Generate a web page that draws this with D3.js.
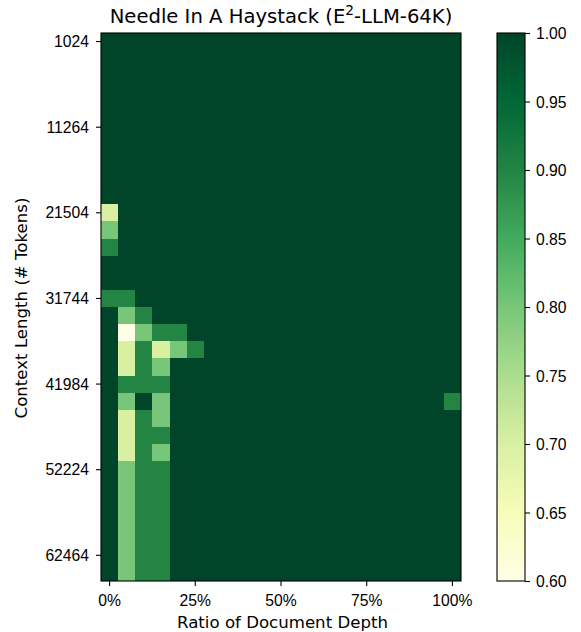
<!DOCTYPE html>
<html>
<head>
<meta charset="utf-8">
<script src="https://cdn.jsdelivr.net/npm/d3@7"></script>
<style>
  html, body { margin: 0; padding: 0; background: #fff; }
  svg { display: block; font-family: "DejaVu Sans", sans-serif; }
</style>
</head>
<body>
<svg id="chart" width="581" height="632"></svg>
<script>
// Needle-in-a-haystack retrieval accuracy, one row per context length,
// one column per needle depth (0%..100% in 5% steps).
const depthPercents = [0, 5, 10, 15, 20, 25, 30, 35, 40, 45, 50, 55, 60, 65, 70, 75, 80, 85, 90, 95, 100];
const contextLengths = [
  1024, 3072, 5120, 7168, 9216, 11264, 13312, 15360, 17408, 19456,
  21504, 23552, 25600, 27648, 29696, 31744, 33792, 35840, 37888, 39936,
  41984, 44032, 46080, 48128, 50176, 52224, 54272, 56320, 58368, 60416,
  62464, 64512
];
const xTickLabels = ["0%", "25%", "50%", "75%", "100%"];
const xTickDepths = [0, 25, 50, 75, 100];
const yTickLabels = ["1024", "11264", "21504", "31744", "41984", "52224", "62464"];
const colorTicks = [0.60, 0.65, 0.70, 0.75, 0.80, 0.85, 0.90, 0.95, 1.00];

const scores = [
  [1,1,1,1,1,1,1,1,1,1,1,1,1,1,1,1,1,1,1,1,1],
  [1,1,1,1,1,1,1,1,1,1,1,1,1,1,1,1,1,1,1,1,1],
  [1,1,1,1,1,1,1,1,1,1,1,1,1,1,1,1,1,1,1,1,1],
  [1,1,1,1,1,1,1,1,1,1,1,1,1,1,1,1,1,1,1,1,1],
  [1,1,1,1,1,1,1,1,1,1,1,1,1,1,1,1,1,1,1,1,1],
  [1,1,1,1,1,1,1,1,1,1,1,1,1,1,1,1,1,1,1,1,1],
  [1,1,1,1,1,1,1,1,1,1,1,1,1,1,1,1,1,1,1,1,1],
  [1,1,1,1,1,1,1,1,1,1,1,1,1,1,1,1,1,1,1,1,1],
  [1,1,1,1,1,1,1,1,1,1,1,1,1,1,1,1,1,1,1,1,1],
  [1,1,1,1,1,1,1,1,1,1,1,1,1,1,1,1,1,1,1,1,1],
  [0.7,1,1,1,1,1,1,1,1,1,1,1,1,1,1,1,1,1,1,1,1],
  [0.8,1,1,1,1,1,1,1,1,1,1,1,1,1,1,1,1,1,1,1,1],
  [0.9,1,1,1,1,1,1,1,1,1,1,1,1,1,1,1,1,1,1,1,1],
  [1,1,1,1,1,1,1,1,1,1,1,1,1,1,1,1,1,1,1,1,1],
  [1,1,1,1,1,1,1,1,1,1,1,1,1,1,1,1,1,1,1,1,1],
  [0.9,0.9,1,1,1,1,1,1,1,1,1,1,1,1,1,1,1,1,1,1,1],
  [1,0.8,0.9,1,1,1,1,1,1,1,1,1,1,1,1,1,1,1,1,1,1],
  [1,0.6,0.8,0.9,0.9,1,1,1,1,1,1,1,1,1,1,1,1,1,1,1,1],
  [1,0.7,0.9,0.7,0.8,0.9,1,1,1,1,1,1,1,1,1,1,1,1,1,1,1],
  [1,0.7,0.9,0.8,1,1,1,1,1,1,1,1,1,1,1,1,1,1,1,1,1],
  [1,0.9,0.9,0.9,1,1,1,1,1,1,1,1,1,1,1,1,1,1,1,1,1],
  [1,0.8,1,0.8,1,1,1,1,1,1,1,1,1,1,1,1,1,1,1,1,0.9],
  [1,0.7,0.9,0.8,1,1,1,1,1,1,1,1,1,1,1,1,1,1,1,1,1],
  [1,0.7,0.9,0.9,1,1,1,1,1,1,1,1,1,1,1,1,1,1,1,1,1],
  [1,0.7,0.9,0.8,1,1,1,1,1,1,1,1,1,1,1,1,1,1,1,1,1],
  [1,0.8,0.9,0.9,1,1,1,1,1,1,1,1,1,1,1,1,1,1,1,1,1],
  [1,0.8,0.9,0.9,1,1,1,1,1,1,1,1,1,1,1,1,1,1,1,1,1],
  [1,0.8,0.9,0.9,1,1,1,1,1,1,1,1,1,1,1,1,1,1,1,1,1],
  [1,0.8,0.9,0.9,1,1,1,1,1,1,1,1,1,1,1,1,1,1,1,1,1],
  [1,0.8,0.9,0.9,1,1,1,1,1,1,1,1,1,1,1,1,1,1,1,1,1],
  [1,0.8,0.9,0.9,1,1,1,1,1,1,1,1,1,1,1,1,1,1,1,1,1],
  [1,0.8,0.9,0.9,1,1,1,1,1,1,1,1,1,1,1,1,1,1,1,1,1]
];

// YlGn colormap, linearly interpolated between its nine anchor colours
const ylgn = ["#ffffe5", "#f7fcb9", "#d9f0a3", "#addd8e", "#78c679", "#41ab5d", "#238443", "#006837", "#004529"];
const vmin = 0.6, vmax = 1.0;
const color = d3.scaleLinear()
  .domain(ylgn.map((_, i) => vmin + (vmax - vmin) * i / (ylgn.length - 1)))
  .range(ylgn)
  .interpolate(d3.interpolateRgb)
  .clamp(true);

const svg = d3.select("#chart");
const plot = { left: 101, top: 33, right: 461, bottom: 581 };

const x = d3.scaleBand().domain(depthPercents).range([plot.left, plot.right]).padding(0);
const y = d3.scaleBand().domain(contextLengths).range([plot.top, plot.bottom]).padding(0);

const cells = [];
scores.forEach((row, r) => row.forEach((v, c) => cells.push({ len: contextLengths[r], depth: depthPercents[c], v })));

svg.append("g")
  .selectAll("rect")
  .data(cells)
  .join("rect")
  .attr("x", d => x(d.depth))
  .attr("y", d => y(d.len))
  .attr("width", x.bandwidth() + 0.3)
  .attr("height", y.bandwidth() + 0.3)
  .attr("fill", d => color(d.v))
  .attr("shape-rendering", "crispEdges");

// frame
svg.append("rect")
  .attr("x", plot.left).attr("y", plot.top)
  .attr("width", plot.right - plot.left).attr("height", plot.bottom - plot.top)
  .attr("fill", "none").attr("stroke", "#000").attr("stroke-width", 1.1);

const tickFont = 15.7;
const labelFont = 16.6;

// x axis
const xAxis = d3.axisBottom(x)
  .tickValues(xTickDepths)
  .tickFormat(d => xTickLabels[xTickDepths.indexOf(d)])
  .tickSize(5).tickPadding(9);
const gx = svg.append("g").attr("transform", `translate(0,${plot.bottom})`).call(xAxis);
gx.select(".domain").remove();
gx.selectAll("line").attr("stroke", "#000").attr("stroke-width", 1.1);
gx.selectAll("text").attr("font-size", tickFont).attr("fill", "#000");

// y axis
const yTickValues = contextLengths.filter(d => yTickLabels.includes(String(d)));
const yAxis = d3.axisLeft(y)
  .tickValues(yTickValues)
  .tickSize(5).tickPadding(7);
const gy = svg.append("g").attr("transform", `translate(${plot.left},0)`).call(yAxis);
gy.select(".domain").remove();
gy.selectAll("line").attr("stroke", "#000").attr("stroke-width", 1.1);
gy.selectAll("text").attr("font-size", tickFont).attr("fill", "#000").attr("dy", "0.36em");

// title
const title = svg.append("text")
  .attr("x", (plot.left + plot.right) / 2).attr("y", 22.5)
  .attr("text-anchor", "middle").attr("font-size", 19.6).attr("fill", "#000");
title.append("tspan").text("Needle In A Haystack (E");
title.append("tspan").attr("font-size", 13.7).attr("dy", -7.5).text("2");
title.append("tspan").attr("dy", 7.5).text("-LLM-64K)");

// axis labels
svg.append("text")
  .attr("x", 282.5).attr("y", 628)
  .attr("text-anchor", "middle").attr("font-size", labelFont).attr("fill", "#000")
  .text("Ratio of Document Depth");
svg.append("text")
  .attr("transform", `translate(27.3,308) rotate(-90)`)
  .attr("text-anchor", "middle").attr("font-size", labelFont).attr("fill", "#000")
  .text("Context Length (# Tokens)");

// colour bar
const cb = { left: 497, right: 525, top: 33, bottom: 581 };
const defs = svg.append("defs");
const grad = defs.append("linearGradient").attr("id", "cbgrad")
  .attr("x1", 0).attr("y1", 1).attr("x2", 0).attr("y2", 0);
d3.range(0, 1.0001, 0.02).forEach(t => {
  grad.append("stop").attr("offset", t).attr("stop-color", color(vmin + (vmax - vmin) * t));
});
svg.append("rect")
  .attr("x", cb.left).attr("y", cb.top)
  .attr("width", cb.right - cb.left).attr("height", cb.bottom - cb.top)
  .attr("fill", "url(#cbgrad)").attr("stroke", "#000").attr("stroke-width", 1.1);

const cScale = d3.scaleLinear().domain([vmin, vmax]).range([cb.bottom, cb.top]);
const gc = svg.append("g").attr("transform", `translate(${cb.right},0)`)
  .call(d3.axisRight(cScale).tickValues(colorTicks).tickFormat(d3.format(".2f")).tickSize(5).tickPadding(6));
gc.select(".domain").remove();
gc.selectAll("line").attr("stroke", "#000").attr("stroke-width", 1.1);
gc.selectAll("text").attr("font-size", tickFont).attr("fill", "#000").attr("dy", "0.36em");
</script>
</body>
</html>
